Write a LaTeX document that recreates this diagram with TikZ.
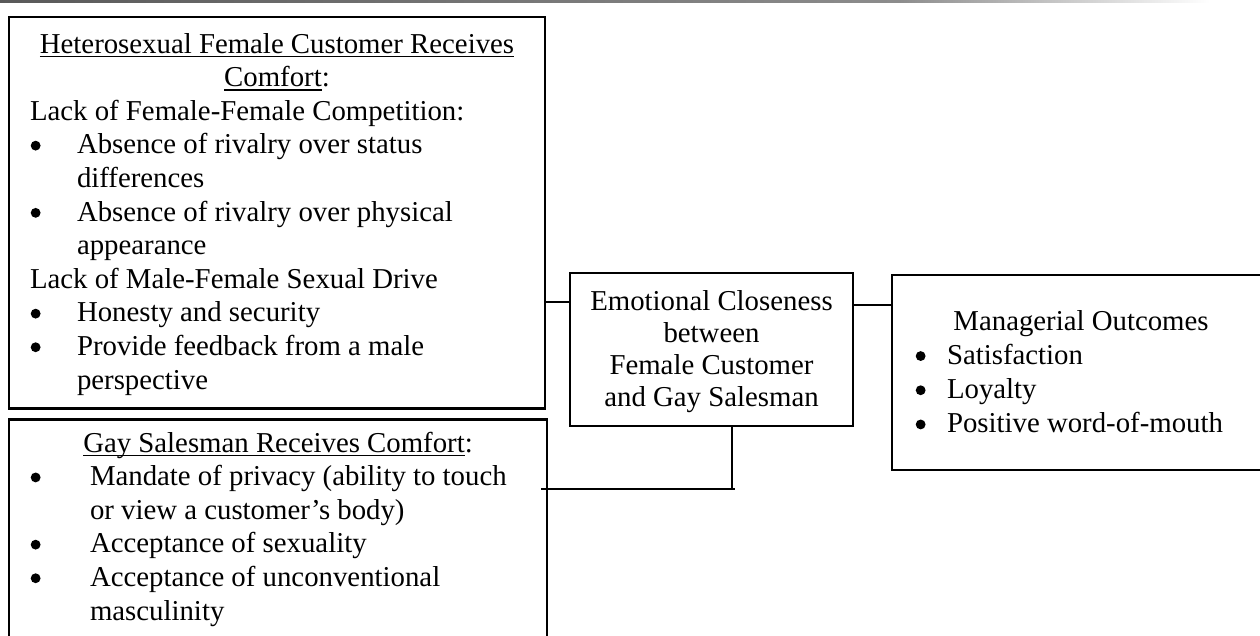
\documentclass[tikz,border=0pt]{standalone}
\usepackage{fontspec}
\setmainfont{Liberation Serif}
\usetikzlibrary{fit}
\newdimen\px \px=0.41667pt
\newlength\ulw
\newcommand\myul[1]{\settowidth\ulw{#1}\rlap{\rule[-1.7pt]{\ulw}{0.55pt}}#1}
\newcommand\bdot{\tikz[baseline=-3.4pt]\fill[black] (0,0) circle[radius=2.05pt];}
\newcommand\bul[2]{\makebox[#1][l]{\hspace*{0.3pt}\bdot}#2}
\newcommand\ctr[1]{\makebox[\linewidth][c]{#1}}
\tikzset{
  box/.style={draw=black, line width=0.85pt, inner sep=0pt, outer sep=0pt},
  txt/.style={inner sep=0pt, outer sep=0pt, anchor=base west, font=\fontsize{12pt}{14pt}\selectfont},
  conn/.style={draw=black, line width=0.5pt},
}
\begin{document}
\begin{tikzpicture}[x=0.41667pt, y=-0.41667pt]
\useasboundingbox (0,0) rectangle (1260,635);
% top rule
\shade[left color=black!65, right color=black!45] (0,0) rectangle (900,2.4);
\shade[left color=black!45, right color=white] (900,0) rectangle (1210,2.4);

% boxes
\node[box, fit={(9,16.7) (545,408.5)}] (b1) {};
\node[box, fit={(9,419.5) (547,660)}] (b2) {};
\node[box, fit={(570,273) (853,426)}] (cbox) {};
\node[box, fit={(892,275) (1272,470)}] (rbox) {};

% texts
\node[txt] (t1) at (30,53) {\parbox[t]{494\px}{%
\ctr{\myul{Heterosexual Female Customer Receives}}\\
\ctr{\myul{Comfort}:}\\
Lack of Female-Female Competition:\\
\bul{47\px}{Absence of rivalry over status}\\
\hspace*{47\px}differences\\
\bul{47\px}{Absence of rivalry over physical}\\
\hspace*{47\px}appearance\\
Lack of Male-Female Sexual Drive\\
\bul{47\px}{Honesty and security}\\
\bul{47\px}{Provide feedback from a male}\\
\hspace*{47\px}perspective}};

\node[txt] (t2) at (30,452) {\parbox[t]{496\px}{%
\ctr{\myul{Gay Salesman Receives Comfort}:}\\
\bul{60\px}{Mandate of privacy (ability to touch}\\
\hspace*{60\px}or view a customer’s body)\\
\bul{60\px}{Acceptance of sexuality}\\
\bul{60\px}{Acceptance of unconventional}\\
\hspace*{60\px}masculinity}};

\node[txt, font=\fontsize{12pt}{13.46pt}\selectfont] (tc) at (570,310) {\parbox[t]{283\px}{%
\ctr{Emotional Closeness}\\
\ctr{between}\\
\ctr{Female Customer}\\
\ctr{and Gay Salesman}}};

\node[txt, font=\fontsize{12pt}{14.25pt}\selectfont] (tr) at (915,330) {\parbox[t]{332\px}{%
\ctr{Managerial Outcomes}\\
\bul{32\px}{Satisfaction}\\
\bul{32\px}{Loyalty}\\
\bul{32\px}{Positive word-of-mouth}}};

% connectors
\coordinate (j1) at (0,302);
\coordinate (j2) at (0,305);
\coordinate (j3) at (732,489);
\draw[conn] (b1.east |- j1) -- (cbox.west |- j1);
\draw[conn] (cbox.east |- j2) -- (rbox.west |- j2);
\draw[conn] (cbox.south -| j3) -- (j3);
\draw[conn] ([xshift=-2.5pt]b2.east |- j3) -- ([xshift=1.25pt]j3);
\end{tikzpicture}
\end{document}
